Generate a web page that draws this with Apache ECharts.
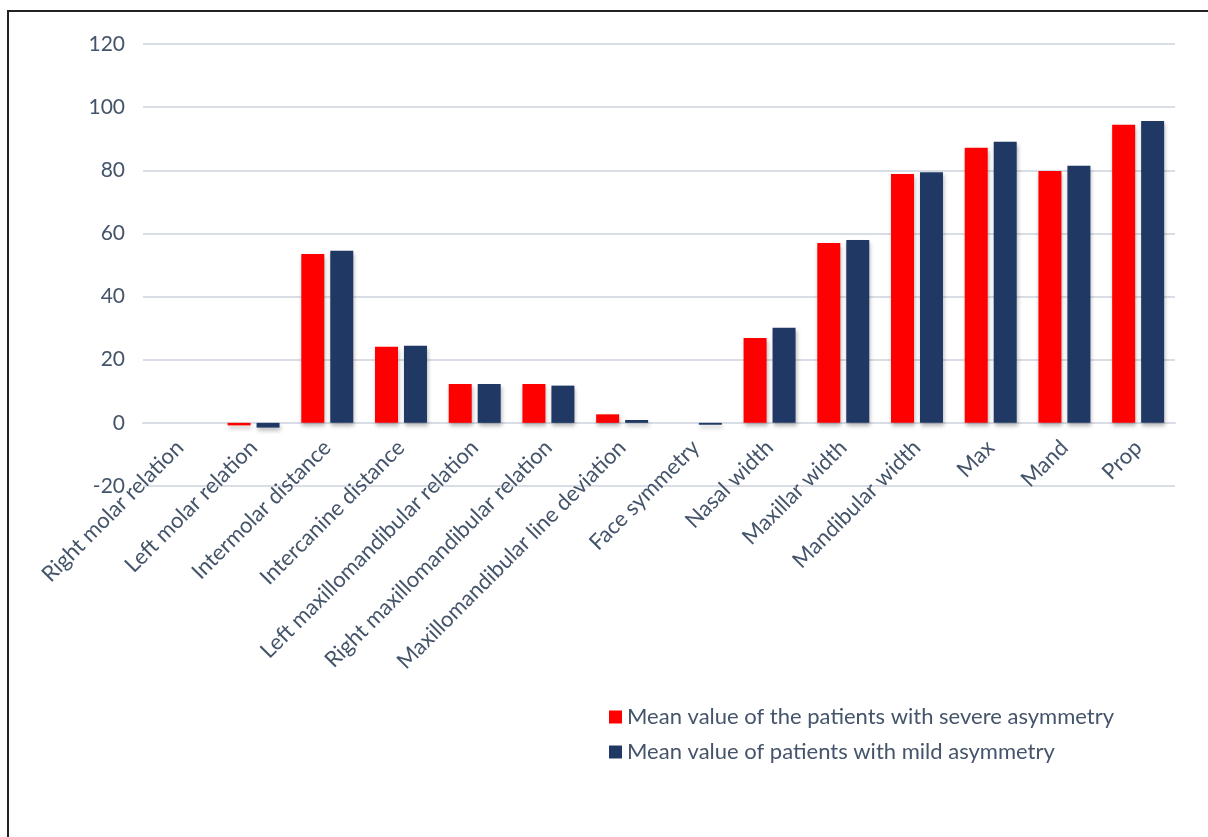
<!DOCTYPE html>
<html>
<head>
<meta charset="utf-8">
<script src="https://cdn.jsdelivr.net/npm/echarts@6/dist/echarts.min.js"></script>
<style>
  html, body { margin: 0; padding: 0; background: #fff; }
  #frame { position: absolute; left: 7px; top: 10px; width: 1220px; height: 850px;
           border-left: 2px solid #222; border-top: 2px solid #222; }
  #chart { position: absolute; left: 0; top: 0; width: 1208px; height: 837px; }
</style>
</head>
<body>
<div id="frame"></div>
<div id="chart"></div>
<script>
var categories = [
  'Right molar relation', 'Left molar relation', 'Intermolar distance', 'Intercanine distance',
  'Left maxillomandibular relation', 'Right maxillomandibular relation',
  'Maxillomandibular line deviation', 'Face symmetry', 'Nasal width', 'Maxillar width',
  'Mandibular width', 'Max', 'Mand', 'Prop'
];
var severeValues = [0, -0.8, 53.5, 24.1, 12.3, 12.3, 2.7, 0, 26.9, 57.0, 78.8, 87.1, 79.8, 94.4];
var mildValues = [0, -1.5, 54.5, 24.4, 12.3, 11.8, 0.9, -0.6, 30.1, 57.9, 79.4, 89.0, 81.4, 95.6];
var yTicks = { min: -20, max: 120, interval: 20 };

var textColor = '#44546a';
var gridColor = '#d9dee6';
var font = 'Lato, "Liberation Sans", sans-serif';

var chart = echarts.init(document.getElementById('chart'));

var barShadow = {
  shadowBlur: 4,
  shadowOffsetY: 3,
  shadowOffsetX: 1,
  shadowColor: 'rgba(0,0,0,0.28)'
};

var option = {
  backgroundColor: 'transparent',
  animation: false,
  textStyle: { fontFamily: font },
  grid: { left: 143, right: 33, top: 44, bottom: 351, containLabel: false },
  legend: {
    orient: 'vertical',
    left: 604,
    top: 701,
    itemWidth: 13,
    itemHeight: 13,
    itemGap: 13,
    icon: 'rect',
    textStyle: { color: textColor, fontSize: 22, fontFamily: font },
    data: ['Mean value of the patients with severe asymmetry', 'Mean value of patients with mild asymmetry']
  },
  xAxis: {
    type: 'category',
    data: categories,
    offset: -63,
    axisLine: { onZero: false, lineStyle: { color: gridColor, width: 2 } },
    axisTick: { show: false },
    axisLabel: {
      rotate: 45,
      interval: 0,
      margin: 21,
      color: textColor,
      fontSize: 22,
      fontFamily: font
    }
  },
  yAxis: {
    type: 'value',
    min: yTicks.min,
    max: yTicks.max,
    interval: yTicks.interval,
    axisLine: { show: false },
    axisTick: { show: false },
    splitLine: { lineStyle: { color: gridColor, width: 2 } },
    axisLabel: { color: textColor, fontSize: 21, margin: 18, fontFamily: font }
  },
  series: [
    {
      name: 'Mean value of the patients with severe asymmetry',
      type: 'bar',
      data: severeValues,
      barWidth: 23,
      barGap: '26%',
      itemStyle: Object.assign({ color: '#ff0000' }, barShadow)
    },
    {
      name: 'Mean value of patients with mild asymmetry',
      type: 'bar',
      data: mildValues,
      barWidth: 23,
      barGap: '26%',
      itemStyle: Object.assign({ color: '#203864' }, barShadow)
    }
  ]
};

chart.setOption(option);
</script>
</body>
</html>
